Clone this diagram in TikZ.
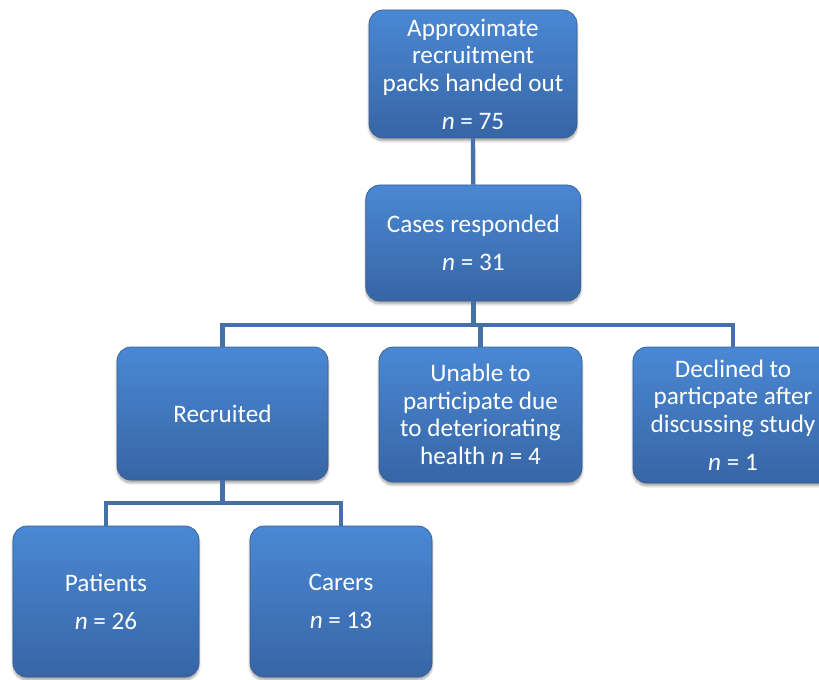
\documentclass[tikz,border=0pt]{standalone}
\usepackage{fontspec}
\setmainfont{Carlito}
\usetikzlibrary{shadows.blur}
\definecolor{boxtop}{RGB}{74,136,212}
\definecolor{boxbot}{RGB}{55,101,165}
\definecolor{boxedge}{RGB}{56,95,148}
\definecolor{linkcol}{RGB}{70,113,168}

\begin{document}
\begin{tikzpicture}[
  box/.style={rectangle,rounded corners=.42cm,top color=boxtop,bottom color=boxbot,
    draw=boxedge,line width=.6pt,text=white,align=center,inner sep=0pt,
    font=\fontsize{21.5}{23.5}\selectfont,
    blur shadow={shadow xshift=0pt,shadow yshift=-.09cm,shadow blur steps=6,shadow opacity=35}},
  link/.style={draw=linkcol,line width=.13cm}]
  \useasboundingbox (0,0) rectangle (24.57,20.37);
  \node[box,minimum width=6.24cm,minimum height=3.84cm](pack) at(14.19,18.15){Approximate\\recruitment\\packs handed out\\[9pt]\textit{n} = 75};
  \node[box,minimum width=6.45cm,minimum height=3.48cm](resp) at(14.2,13.08){Cases responded\\[9pt]\textit{n} = 31};
  \node[box,minimum width=6.33cm,minimum height=3.99cm](recr) at(6.675,7.965){Recruited};
  \node[box,minimum width=6.09cm,minimum height=4.05cm](unable) at(14.415,7.935){Unable to\\participate due\\to deteriorating\\health \textit{n} = 4};
  \node[box,minimum width=6cm,minimum height=4.08cm](decl) at(21.99,7.92){Declined to\\particpate after\\discussing study\\[9pt]\textit{n} = 1};
  \node[box,minimum width=5.58cm,minimum height=4.53cm](pat) at(3.18,2.325){Patients\\[9pt]\textit{n} = 26};
  \node[box,minimum width=5.46cm,minimum height=4.53cm](carer) at(10.23,2.325){Carers\\[9pt]\textit{n} = 13};
  \coordinate(split1) at(14.2,10.62);
  \coordinate(split2) at(6.675,5.28);
  \draw[link](pack.south)--(resp.north);
  \draw[link](resp.south)--(resp.south|-split1);
  \draw[link](recr.north)|-(decl.north|-split1)--(decl.north);
  \draw[link](unable.north)--(unable.north|-split1);
  \draw[link](recr.south)--(split2);
  \draw[link](pat.north)|-(carer.north|-split2)--(carer.north);
\end{tikzpicture}
\end{document}
